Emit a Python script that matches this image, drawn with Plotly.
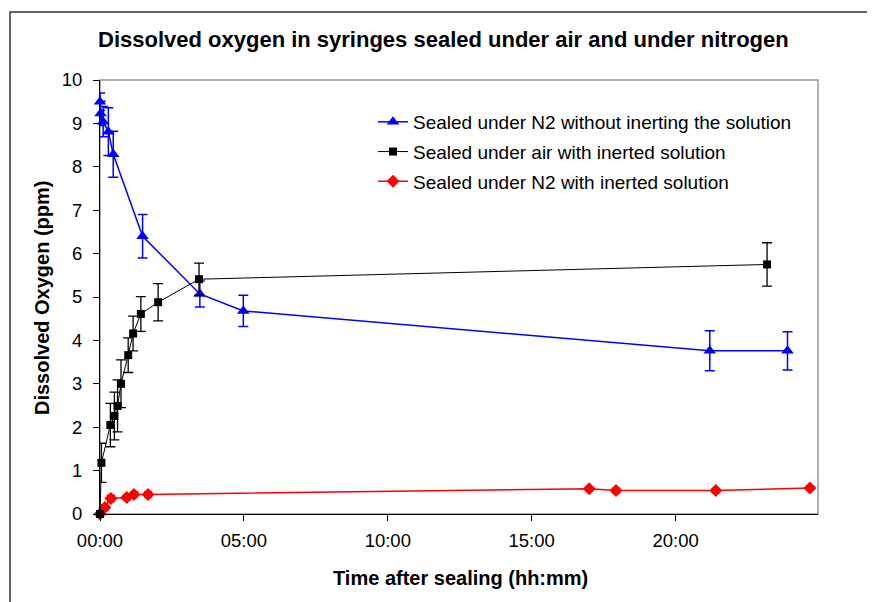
import plotly.graph_objects as go

# ---- data (time in hours after sealing, dissolved O2 in ppm) ----
blue_name = "Sealed under N2 without inerting the solution"
blue_x = [0, 0.02, 0.11, 0.29, 0.46, 1.48, 3.47, 4.98, 21.19, 23.89]
blue_y = [9.50, 9.23, 9.04, 8.81, 8.29, 6.40, 5.07, 4.68, 3.76, 3.76]
blue_err = [0.2, 0.28, 0.35, 0.55, 0.53, 0.5, 0.3, 0.36, 0.46, 0.44]

black_name = "Sealed under air with inerted solution"
black_x = [0, 0.05, 0.36, 0.50, 0.61, 0.73, 0.98, 1.15, 1.42, 2.02, 3.44, 23.18]
black_y = [0, 1.18, 2.05, 2.26, 2.49, 3.00, 3.66, 4.16, 4.61, 4.88, 5.41, 5.75]
black_err = [0, 0.45, 0.5, 0.55, 0.6, 0.55, 0.4, 0.4, 0.4, 0.43, 0.37, 0.5]

red_name = "Sealed under N2 with inerted solution"
red_x = [0, 0.17, 0.38, 0.93, 1.18, 1.67, 17.0, 17.93, 21.4, 24.67]
red_y = [0, 0.15, 0.36, 0.38, 0.45, 0.45, 0.58, 0.54, 0.54, 0.60]
red_err = [0, 0.06, 0.07, 0.06, 0.06, 0.06, 0.05, 0.06, 0.05, 0.05]

x_tickvals = [0, 5, 10, 15, 20]
x_ticktext = ["00:00", "05:00", "10:00", "15:00", "20:00"]
y_tickvals = [0, 1, 2, 3, 4, 5, 6, 7, 8, 9, 10]

title_text = "Dissolved oxygen in syringes sealed under air and under nitrogen"
x_title = "Time after sealing (hh:mm)"
y_title = "Dissolved Oxygen (ppm)"

FONT = "Liberation Sans, Arial, sans-serif"

fig = go.Figure()

# drawing order: red, blue, black (legend order set by legendrank)
fig.add_trace(go.Scatter(
    x=red_x, y=red_y, name=red_name, mode="lines+markers",
    line=dict(color="#FF0000", width=1.5),
    marker=dict(symbol="diamond", size=10, color="#FF0000"),
    error_y=dict(type="data", array=red_err, visible=True, color="#FF0000",
                 thickness=1.5, width=4),
    cliponaxis=False, legendgroup="c", legendrank=3,
))
fig.add_trace(go.Scatter(
    x=blue_x, y=blue_y, name=blue_name, mode="lines+markers",
    line=dict(color="#0000FF", width=1.5),
    marker=dict(symbol="triangle-up", size=11, color="#0000FF"),
    error_y=dict(type="data", array=blue_err, visible=True, color="#0000FF",
                 thickness=1.5, width=5),
    cliponaxis=False, legendgroup="a", legendrank=1,
))
fig.add_trace(go.Scatter(
    x=black_x, y=black_y, name=black_name, mode="lines+markers",
    line=dict(color="#000000", width=1),
    marker=dict(symbol="square", size=8, color="#000000"),
    error_y=dict(type="data", array=black_err, visible=True, color="#000000",
                 thickness=1.3, width=5),
    cliponaxis=False, legendgroup="b", legendrank=2,
))

# page offset from default body margin
OFF = 8
# plot area in page pixels
L, R, T, B = 100, 818, 80, 514
W, H = 875 - OFF, 602 - OFF

def px(xp):
    return (xp - L) / (R - L)

def py(yp):
    return (B - yp) / (B - T)

fig.update_layout(
    width=W, height=H,
    margin=dict(l=L - OFF, r=W - (R - OFF), t=T - OFF, b=H - (B - OFF), pad=0),
    paper_bgcolor="white", plot_bgcolor="white",
    font=dict(family=FONT, size=18, color="black"),
    showlegend=True,
    legend=dict(x=px(373), y=py(103), xanchor="left", yanchor="top",
                bgcolor="rgba(0,0,0,0)", font=dict(size=19),
                tracegroupgap=2, itemwidth=30),
    xaxis=dict(range=[0, 24.95], tickvals=x_tickvals, ticktext=x_ticktext,
               showgrid=False, zeroline=False, showline=True, linecolor="black",
               linewidth=1, ticks="outside", ticklen=6, tickcolor="black",
               tickfont=dict(size=18.5), ticklabelstandoff=4),
    yaxis=dict(range=[0, 10], tickvals=y_tickvals, showgrid=False,
               zeroline=False, showline=True, linecolor="black", linewidth=1,
               ticks="outside", ticklen=6, tickcolor="black",
               tickfont=dict(size=18.5), ticklabelstandoff=7),
    shapes=[
        dict(type="rect", xref="paper", yref="paper", x0=0, x1=1, y0=0, y1=1,
             line=dict(color="#999999", width=1.5), layer="below"),
        dict(type="rect", xref="paper", yref="paper",
             x0=px(10), x1=px(869), y0=py(640), y1=py(12),
             line=dict(color="#333333", width=1.5), layer="below"),
    ],
    annotations=[
        dict(text="<b>" + title_text + "</b>", xref="paper", yref="paper",
             x=px(443), y=py(40), xanchor="center", yanchor="middle",
             showarrow=False, font=dict(size=22)),
        dict(text="<b>" + x_title + "</b>", xref="paper", yref="paper",
             x=px(461), y=py(578), xanchor="center", yanchor="middle",
             showarrow=False, font=dict(size=20)),
        dict(text="<b>" + y_title + "</b>", xref="paper", yref="paper",
             x=px(42), y=py(298), xanchor="center", yanchor="middle",
             textangle=-90, showarrow=False, font=dict(size=20)),
    ],
)

fig.write_html("out.html")
